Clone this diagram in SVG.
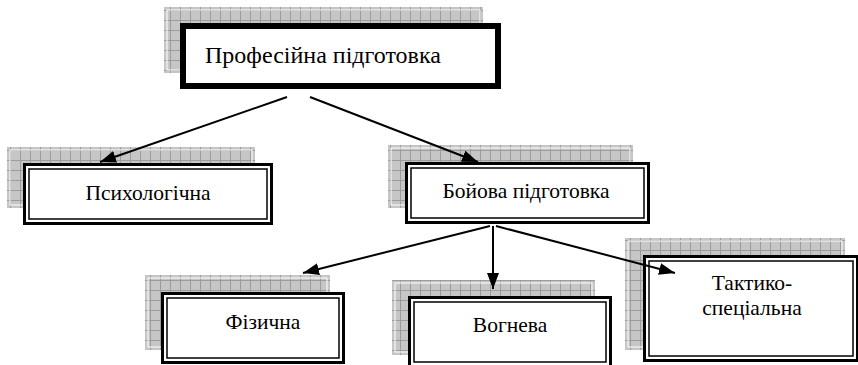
<svg xmlns="http://www.w3.org/2000/svg" width="858" height="365" viewBox="0 0 858 365">
<defs>
<pattern id="grid" width="10" height="10" patternUnits="userSpaceOnUse">
<rect width="10" height="10" fill="#c6c6c6"/>
<path d="M0 0.5H10M0.5 0V10" stroke="#9c9c9c" stroke-width="1"/>
</pattern>
<marker id="ah" viewBox="0 0 16 12" refX="16" refY="6" markerWidth="16" markerHeight="12" markerUnits="userSpaceOnUse" orient="auto">
<path d="M0 0L16 6L0 12z" fill="#000"/>
</marker>
<style>
.sh{fill:url(#grid)}
.shl{fill:none;stroke:#fff;stroke-width:1}
.o{fill:#fff;stroke:#000;stroke-width:3}
.i{fill:none;stroke:#000;stroke-width:1.5}
.c{fill:none;stroke:#000;stroke-width:2;marker-end:url(#ah)}
</style>
</defs>
<rect width="858" height="365" fill="#fff"/>

<g font-family="'Liberation Serif', 'Times New Roman', serif" fill="#000">
<g id="n-prof">
<rect class="sh" x="164" y="7" width="319" height="66"/>
<rect class="shl" x="167" y="10" width="313" height="60"/>
<rect x="183" y="26" width="315" height="60" fill="#fff" stroke="#000" stroke-width="6"/>
<text x="205" y="63" font-size="24">Професійна підготовка</text>
</g>

<g id="n-psych">
<rect class="sh" x="7" y="147" width="248" height="61"/>
<rect class="shl" x="10" y="150" width="242" height="55"/>
<rect class="o" x="24.5" y="164.5" width="247" height="59"/>
<rect class="i" x="29" y="169" width="238" height="50"/>
<text x="148" y="200" font-size="21.5" text-anchor="middle">Психологічна</text>
</g>

<g id="n-boy">
<rect class="sh" x="388" y="145" width="245" height="63"/>
<rect class="shl" x="391" y="148" width="239" height="57"/>
<rect class="o" x="406.5" y="163.5" width="242" height="59"/>
<rect class="i" x="411" y="168" width="233" height="50"/>
<text x="526" y="198" font-size="21.5" text-anchor="middle">Бойова підготовка</text>
</g>

<g id="n-fiz">
<rect class="sh" x="145" y="275" width="185" height="75"/>
<rect class="shl" x="148" y="278" width="179" height="69"/>
<rect class="o" x="162.5" y="293.5" width="181" height="69"/>
<rect class="i" x="167" y="298" width="172" height="60"/>
<text x="263" y="329" font-size="21.5" text-anchor="middle">Фізична</text>
</g>

<g id="n-vog">
<rect class="sh" x="392" y="280" width="203" height="75"/>
<rect class="shl" x="395" y="283" width="197" height="69"/>
<rect class="o" x="409.5" y="297.5" width="201" height="69"/>
<rect class="i" x="414" y="302" width="192" height="60"/>
<text x="510" y="332" font-size="21.5" text-anchor="middle">Вогнева</text>
</g>

<g id="n-takt">
<rect class="sh" x="625" y="238" width="220" height="112"/>
<rect class="shl" x="628" y="241" width="214" height="106"/>
<rect class="o" x="644.5" y="256.5" width="213" height="104"/>
<rect class="i" x="649" y="261" width="204" height="95"/>
<text x="752" y="290" font-size="21.5" text-anchor="middle">Тактико-</text>
<text x="752" y="315" font-size="21.5" text-anchor="middle">спеціальна</text>
</g>
</g>

<g id="connectors">
<line class="c" x1="287" y1="97" x2="100" y2="162"/>
<line class="c" x1="310" y1="97" x2="478" y2="162"/>
<line class="c" x1="490" y1="226" x2="303" y2="273"/>
<line class="c" x1="493" y1="226" x2="493" y2="289"/>
<line class="c" x1="496" y1="226" x2="675" y2="273"/>
</g>
</svg>
